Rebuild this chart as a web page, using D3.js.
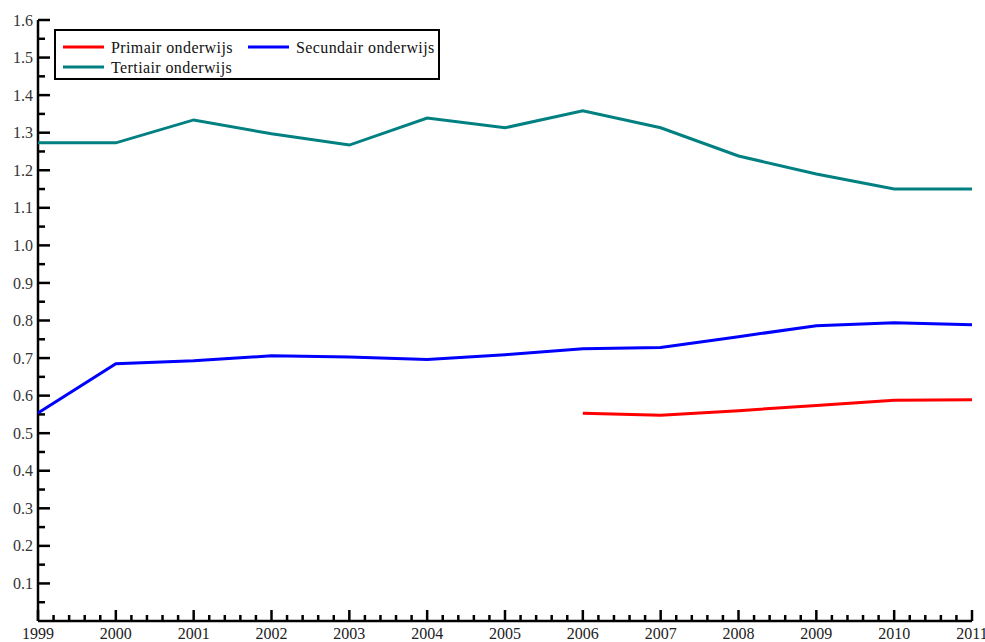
<!DOCTYPE html>
<html>
<head>
<meta charset="utf-8">
<script src="https://cdn.jsdelivr.net/npm/d3@7"></script>
<style>
  body { margin: 0; background: #fff; }
  text { font-family: "Liberation Serif", "DejaVu Serif", serif; }
</style>
</head>
<body>
<div id="chart"></div>
<script>
// Data
const years = [1999, 2000, 2001, 2002, 2003, 2004, 2005, 2006, 2007, 2008, 2009, 2010, 2011];
const primair = [null, null, null, null, null, null, null, 0.553, 0.548, 0.560, 0.574, 0.588, 0.589];
const secundair = [0.554, 0.685, 0.693, 0.706, 0.703, 0.696, 0.709, 0.725, 0.728, 0.757, 0.786, 0.794, 0.789];
const tertiair = [1.273, 1.273, 1.334, 1.297, 1.267, 1.339, 1.313, 1.358, 1.313, 1.238, 1.190, 1.150, 1.150];
const seriesNames = ['Primair onderwijs', 'Secundair onderwijs', 'Tertiair onderwijs'];
const colors = ['#ff0000', '#0000ff', '#008080'];
const yTicks = [0.1, 0.2, 0.3, 0.4, 0.5, 0.6, 0.7, 0.8, 0.9, 1.0, 1.1, 1.2, 1.3, 1.4, 1.5, 1.6];

// Size
const width = 985;
const height = 642;
const margin = { top: 20, right: 13, bottom: 21, left: 38 };

const svg = d3.select('#chart')
  .append('svg')
  .attr('width', width)
  .attr('height', height);

// Scales
const x = d3.scaleLinear()
  .domain([1999, 2011])
  .range([margin.left, width - margin.right]);

const y = d3.scaleLinear()
  .domain([0, 1.6])
  .range([height - margin.bottom, margin.top]);

// Minor ticks
const xMinor = d3.range(1999, 2011.001, 0.2).filter(v => Math.abs(v - Math.round(v)) > 0.01);
const yMinor = d3.range(0.05, 1.6, 0.1);

// Y axis
const yAxis = svg.append('g')
  .attr('transform', `translate(${margin.left},0)`);

yAxis.append('line')
  .attr('x1', 0).attr('x2', 0)
  .attr('y1', y(1.6)).attr('y2', y(0))
  .attr('stroke', '#000')
  .attr('stroke-width', 2.5);

yAxis.selectAll('.ymaj')
  .data(yTicks)
  .enter()
  .append('line')
  .attr('x1', 0).attr('x2', 12)
  .attr('y1', d => y(d)).attr('y2', d => y(d))
  .attr('stroke', '#000')
  .attr('stroke-width', 2.5);

yAxis.selectAll('.ymin')
  .data(yMinor)
  .enter()
  .append('line')
  .attr('x1', 0).attr('x2', 7)
  .attr('y1', d => y(d)).attr('y2', d => y(d))
  .attr('stroke', '#000')
  .attr('stroke-width', 2.5);

yAxis.selectAll('text')
  .data(yTicks)
  .enter()
  .append('text')
  .attr('x', -5)
  .attr('y', d => y(d))
  .attr('dy', '0.35em')
  .attr('text-anchor', 'end')
  .attr('font-size', 16)
  .attr('fill', '#333')
  .text(d => d.toFixed(1));

// X axis
const xAxis = svg.append('g')
  .attr('transform', `translate(0,${y(0)})`);

xAxis.append('line')
  .attr('x1', x(1999)).attr('x2', x(2011))
  .attr('y1', 0).attr('y2', 0)
  .attr('stroke', '#000')
  .attr('stroke-width', 2.5);

xAxis.selectAll('.xmaj')
  .data(years)
  .enter()
  .append('line')
  .attr('x1', d => x(d)).attr('x2', d => x(d))
  .attr('y1', 0).attr('y2', -11)
  .attr('stroke', '#000')
  .attr('stroke-width', 2.5);

xAxis.selectAll('.xmin')
  .data(xMinor)
  .enter()
  .append('line')
  .attr('x1', d => x(d)).attr('x2', d => x(d))
  .attr('y1', 0).attr('y2', -6)
  .attr('stroke', '#000')
  .attr('stroke-width', 2.5);

xAxis.selectAll('text')
  .data(years)
  .enter()
  .append('text')
  .attr('x', d => x(d))
  .attr('y', 18)
  .attr('text-anchor', 'middle')
  .attr('font-size', 16)
  .attr('fill', '#222')
  .text(d => d);

// Lines
const line = d3.line()
  .defined(d => d[1] !== null)
  .x(d => x(d[0]))
  .y(d => y(d[1]));

[primair, secundair, tertiair].forEach((vals, i) => {
  svg.append('path')
    .datum(years.map((yr, j) => [yr, vals[j]]))
    .attr('d', line)
    .attr('fill', 'none')
    .attr('stroke', colors[i])
    .attr('stroke-width', 3);
});

// Legend
const legend = svg.append('g')
  .attr('transform', 'translate(55,30)');

legend.append('rect')
  .attr('width', 384)
  .attr('height', 49)
  .attr('fill', '#fff')
  .attr('stroke', '#000')
  .attr('stroke-width', 2);

const legendPos = [[8, 17], [193, 17], [8, 37]];

seriesNames.forEach((name, i) => {
  const g = legend.append('g')
    .attr('transform', `translate(${legendPos[i][0]},${legendPos[i][1]})`);
  g.append('line')
    .attr('x1', 0).attr('x2', 41)
    .attr('stroke', colors[i])
    .attr('stroke-width', 3);
  g.append('text')
    .attr('x', 48)
    .attr('dy', '0.35em')
    .attr('font-size', 16)
    .attr('letter-spacing', 0.4)
    .attr('fill', '#111')
    .text(name);
});
</script>
</body>
</html>
